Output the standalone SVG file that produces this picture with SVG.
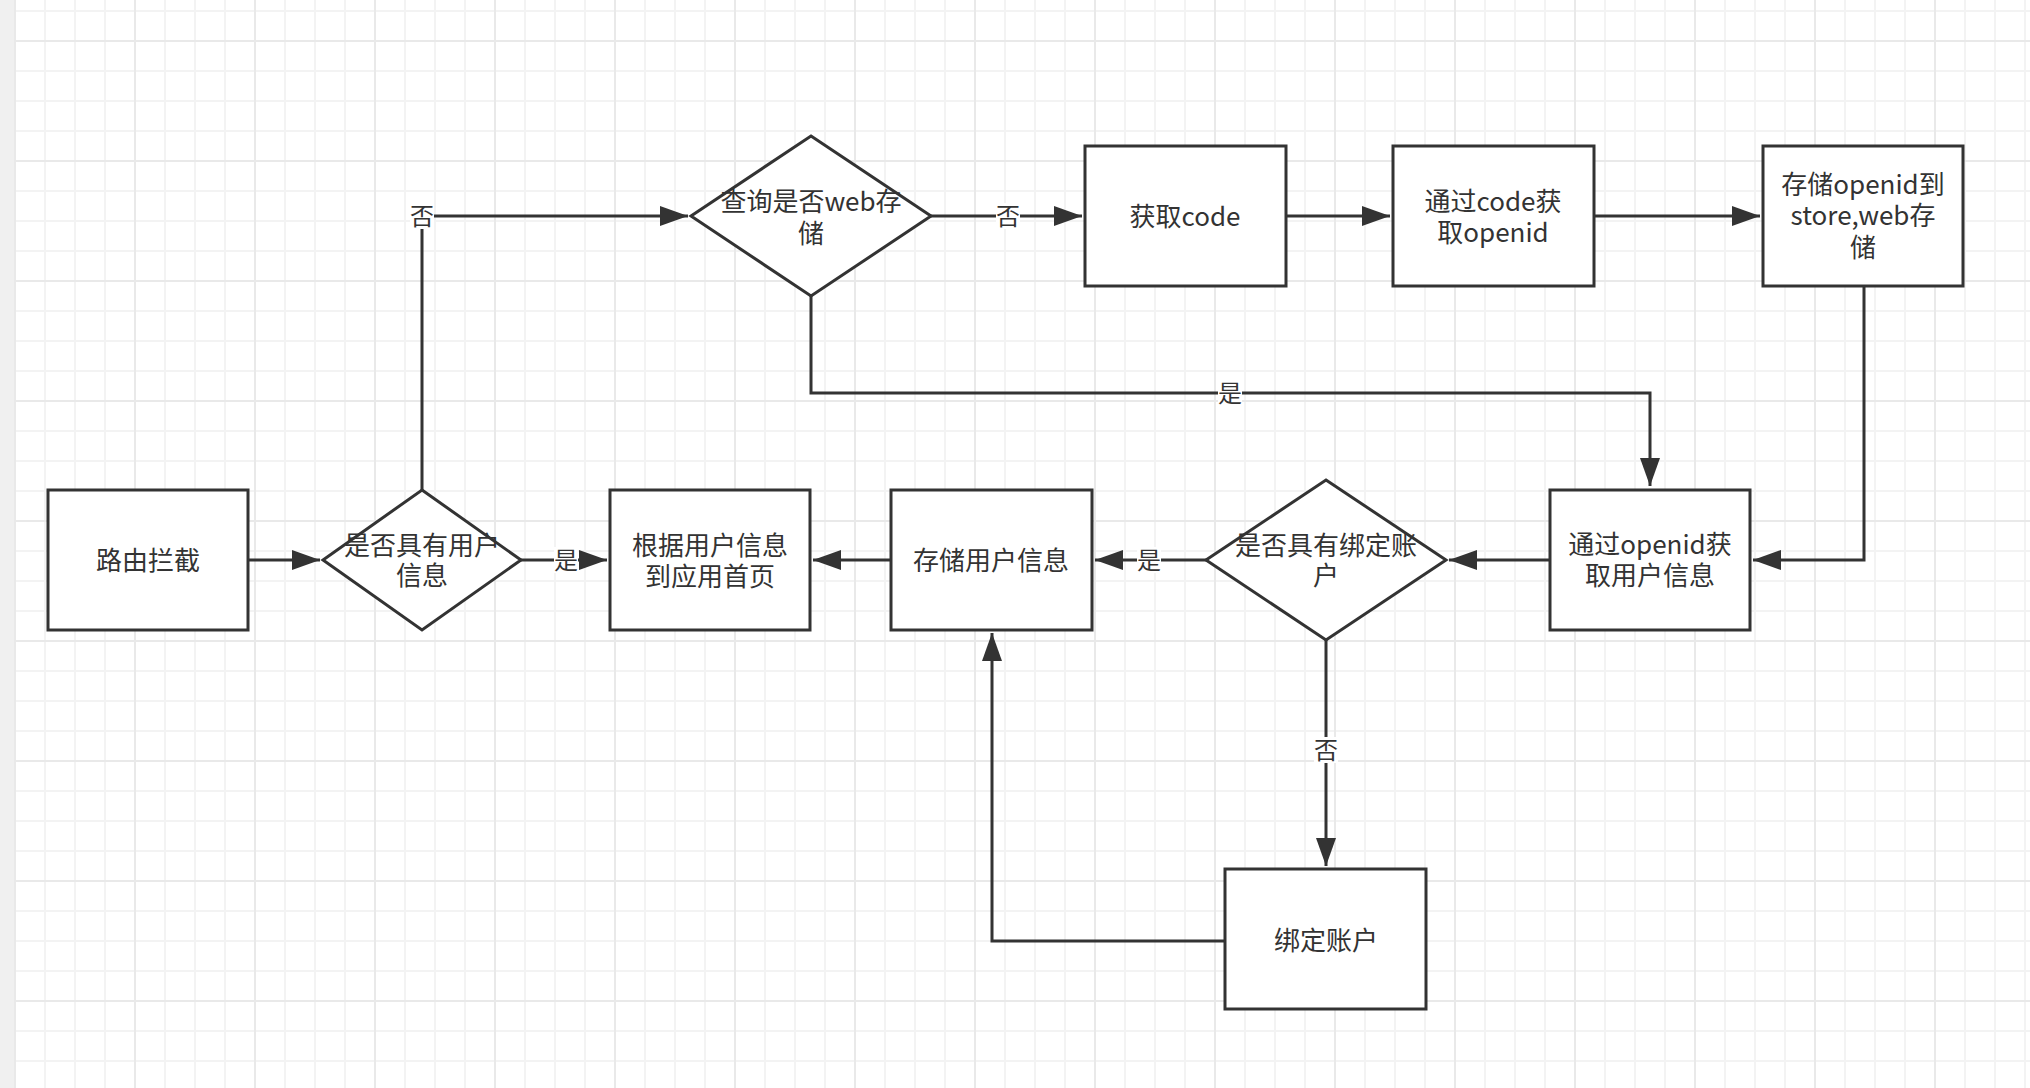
<svg xmlns="http://www.w3.org/2000/svg" width="2030" height="1088" viewBox="0 0 2030 1088">
  <defs>
    <pattern id="grid" patternUnits="userSpaceOnUse" x="14" y="40" width="120" height="120">
      <rect width="120" height="120" fill="#ffffff"/>
      <rect x="30" y="0" width="2" height="120" fill="#f3f3f3"/>
      <rect x="60" y="0" width="2" height="120" fill="#f3f3f3"/>
      <rect x="90" y="0" width="2" height="120" fill="#f3f3f3"/>
      <rect x="0" y="30" width="120" height="2" fill="#f3f3f3"/>
      <rect x="0" y="60" width="120" height="2" fill="#f3f3f3"/>
      <rect x="0" y="90" width="120" height="2" fill="#f3f3f3"/>
      <rect x="0" y="0" width="2" height="120" fill="#e9e9e9"/>
      <rect x="0" y="0" width="120" height="2" fill="#e9e9e9"/>
    </pattern>
    <marker id="arrow" markerUnits="userSpaceOnUse" markerWidth="30" markerHeight="22" refX="28" refY="10" orient="auto">
      <path d="M0,0 L28,10 L0,20 z" fill="#333333"/>
    </marker>
  </defs>
  <style>
    .shape { fill: #ffffff; stroke: #333333; stroke-width: 3; }
    .edge { fill: none; stroke: #333333; stroke-width: 3; marker-end: url(#arrow); }
    .t { font-family: "Noto Sans CJK SC", "Noto Sans", sans-serif; font-size: 26px; fill: #333333; text-anchor: middle; dominant-baseline: central; }
    .lbl { font-family: "Noto Sans CJK SC", "Noto Sans", sans-serif; font-size: 24px; fill: #333333; text-anchor: middle; dominant-baseline: central; }
    .lblbg { fill: #ffffff; }
  </style>

  <rect x="0" y="0" width="2030" height="1088" fill="url(#grid)"/>
  <rect x="0" y="0" width="14" height="1088" fill="#f0f0f0"/>

  <g id="connectors">
    <path class="edge" d="M248,560 L320,560"/>
    <path class="edge" d="M521,560 L607,560"/>
    <path class="edge" d="M422,490 L422,216 L688,216"/>
    <path class="edge" d="M931,216 L1082,216"/>
    <path class="edge" d="M1286,216 L1390,216"/>
    <path class="edge" d="M1594,216 L1760,216"/>
    <path class="edge" d="M811,296 L811,393 L1650,393 L1650,486"/>
    <path class="edge" d="M1864,286 L1864,560 L1753,560"/>
    <path class="edge" d="M1550,560 L1449,560"/>
    <path class="edge" d="M1206,560 L1095,560"/>
    <path class="edge" d="M891,560 L813,560"/>
    <path class="edge" d="M1326,640 L1326,866"/>
    <path class="edge" d="M1225,941 L992,941 L992,633"/>

    <rect class="lblbg" x="410" y="203" width="24" height="26"/>
    <text class="lbl" x="422" y="214">否</text>
    <rect class="lblbg" x="554" y="547" width="24" height="26"/>
    <text class="lbl" x="566" y="558">是</text>
    <rect class="lblbg" x="996" y="203" width="24" height="26"/>
    <text class="lbl" x="1008" y="214">否</text>
    <rect class="lblbg" x="1218" y="380" width="24" height="26"/>
    <text class="lbl" x="1230" y="391">是</text>
    <rect class="lblbg" x="1137" y="547" width="24" height="26"/>
    <text class="lbl" x="1149" y="558">是</text>
    <rect class="lblbg" x="1314" y="737" width="24" height="26"/>
    <text class="lbl" x="1326" y="748">否</text>
  </g>

  <g id="node-route">
    <rect class="shape" x="48" y="490" width="200" height="140"/>
    <text class="t" x="148" y="558">路由拦截</text>
  </g>

  <g id="node-has-user">
    <polygon class="shape" points="422,490 521,560 422,630 323,560"/>
    <text class="t" x="422" y="543">是否具有用户</text>
    <text class="t" x="422" y="573">信息</text>
  </g>

  <g id="node-home">
    <rect class="shape" x="610" y="490" width="200" height="140"/>
    <text class="t" x="710" y="543">根据用户信息</text>
    <text class="t" x="710" y="574">到应用首页</text>
  </g>

  <g id="node-query-web">
    <polygon class="shape" points="811,136 931,216 811,296 691,216"/>
    <text class="t" x="811" y="199">查询是否web存</text>
    <text class="t" x="811" y="231">储</text>
  </g>

  <g id="node-get-code">
    <rect class="shape" x="1085" y="146" width="201" height="140"/>
    <text class="t" x="1185" y="214">获取code</text>
  </g>

  <g id="node-get-openid">
    <rect class="shape" x="1393" y="146" width="201" height="140"/>
    <text class="t" x="1493" y="199">通过code获</text>
    <text class="t" x="1493" y="230">取openid</text>
  </g>

  <g id="node-store-openid">
    <rect class="shape" x="1763" y="146" width="200" height="140"/>
    <text class="t" x="1863" y="182">存储openid到</text>
    <text class="t" x="1863" y="213">store,web存</text>
    <text class="t" x="1863" y="245">储</text>
  </g>

  <g id="node-get-userinfo">
    <rect class="shape" x="1550" y="490" width="200" height="140"/>
    <text class="t" x="1650" y="542">通过openid获</text>
    <text class="t" x="1650" y="573">取用户信息</text>
  </g>

  <g id="node-has-bind">
    <polygon class="shape" points="1326,480 1446,560 1326,640 1206,560"/>
    <text class="t" x="1326" y="543">是否具有绑定账</text>
    <text class="t" x="1326" y="573">户</text>
  </g>

  <g id="node-store-user">
    <rect class="shape" x="891" y="490" width="201" height="140"/>
    <text class="t" x="991" y="558">存储用户信息</text>
  </g>

  <g id="node-bind">
    <rect class="shape" x="1225" y="869" width="201" height="140"/>
    <text class="t" x="1326" y="938">绑定账户</text>
  </g>
</svg>
